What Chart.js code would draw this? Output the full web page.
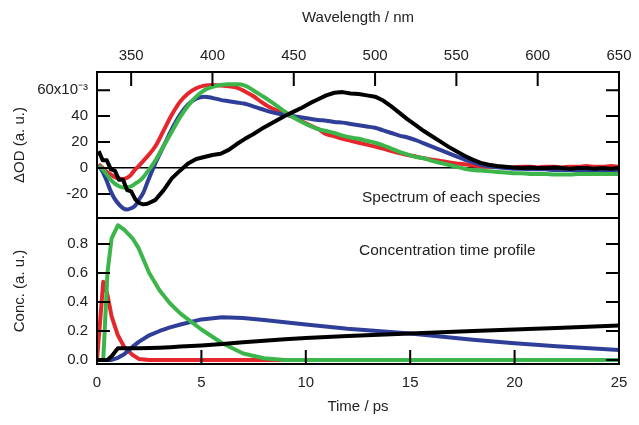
<!DOCTYPE html>
<html>
<head>
<meta charset="utf-8">
<script src="https://cdn.jsdelivr.net/npm/chart.js@4.4.1/dist/chart.umd.min.js"></script>
<style>
  html, body { margin: 0; padding: 0; background: #fff; }
</style>
</head>
<body>
<canvas id="myChart" width="639" height="425"></canvas>
<script>
// spectrum panel (top axis, nm)
const wavelength = [330, 332.5, 335, 337.5, 340, 342.5, 345, 347.5, 350, 352.5, 355, 357.5, 360,
  365, 370, 375, 380, 385, 390, 395, 400, 405, 410,
  415, 420, 425, 430, 435, 440, 445, 450, 455, 460,
  465, 470, 475, 480, 485, 490, 495, 500, 505, 510,
  515, 520, 525, 530, 535, 540, 545, 550, 555, 560,
  565, 570, 575, 580, 585, 590, 595, 600, 605, 610,
  615, 620, 625, 630, 635, 640, 645, 650];
const odRed = [3, 0, -3, -5, -7, -8, -8.5, -7.5, -5, -1, 2, 5.5, 9,
  17, 29, 41, 51, 57.5, 61.5, 63.5, 64, 63.5, 63,
  62, 59, 55.5, 51, 47, 44, 41.5, 39, 36, 33,
  30, 26, 24.5, 22.5, 21, 19.5, 18, 16.5, 15, 13,
  11.5, 10, 9, 7.5, 6.5, 5.5, 4.5, 3.5, 3, 2,
  1.5, 1, 1, 0.5, 0.5, 1, 1, 0.5, 1, 1,
  0.5, 1, 1, 1.5, 1, 1, 1.5, 1];
const odGreen = [2, -1, -5, -9, -12, -14, -15, -15, -14, -12, -10, -7, -3,
  6, 17, 28, 39, 48, 55, 60, 62.5, 64, 64.5,
  64.5, 63.5, 60, 56, 52, 47.5, 43, 39, 35.5, 32.5,
  30, 28.5, 27, 25, 23.5, 22.5, 21, 19.5, 17.5, 15,
  12.5, 10.5, 8.5, 7.5, 5.5, 4, 2.5, 1, -0.5, -1.5,
  -2, -2.5, -3, -3.5, -4, -4, -4.5, -4.5, -4.5, -5,
  -5, -5, -4.5, -4.5, -4.5, -4.5, -4.5, -4.5];
const odBlue = [2, -3, -10, -18, -24, -28, -31, -32, -31, -29, -24, -19, -11,
  4, 17, 30, 41, 49, 53.5, 55, 54, 52.5, 51.5,
  50.5, 49.5, 47.5, 45.5, 43.5, 42, 41, 40, 39, 38,
  37, 36.5, 35.5, 35, 34, 33, 32, 31, 29, 27,
  25, 23.5, 21.5, 19, 16.5, 14, 11.5, 9, 6.5, 4.5,
  2.5, 1.5, 0.5, 0, -0.5, -0.5, -1, -1, -1, -1.5,
  -1.5, -1.5, -2, -2, -2, -2, -2, -2];
const odBlack = [13, 6, 6, -1, -2, -9, -9, -17, -18, -24, -27, -28, -27.5,
  -24.5, -17, -8, -2, 3.5, 7, 8.5, 10, 11, 14,
  18.5, 22.5, 26, 30, 33.5, 37, 40.5, 43.5, 46.5, 50,
  53, 56, 58, 58.5, 57.5, 57, 56, 55, 52, 47.5,
  42.5, 37.5, 33, 28.5, 24.5, 20.5, 16.5, 13, 9.5, 6.5,
  4, 2.5, 1.5, 1, 0.5, 0, 0.5, 0, 0, 0.5,
  0, -0.5, 0, 0, -0.5, 0, -0.5, 0];

// concentration panel (bottom axis, ps)
const time = [0, 0.3, 0.5, 0.7, 1.0, 1.3, 1.7, 2.0, 2.5, 3.0, 3.5, 4.0, 5.0, 6.0, 7.0, 8.0, 9.0, 10, 12, 15, 18, 20, 22, 25];
const concRed = [0, 0.54, 0.45, 0.3, 0.17, 0.09, 0.035, 0.007, 0, 0, 0, 0, 0, 0, 0, 0, 0, 0, 0, 0, 0, 0, 0, 0];
const concGreen = [0, 0, 0.6, 0.84, 0.93, 0.9, 0.84, 0.77, 0.6, 0.48, 0.39, 0.32, 0.21, 0.115, 0.045, 0.012, 0, 0, 0, 0, 0, 0, 0, 0];
const concBlue = [0, 0, 0, 0, 0.015, 0.04, 0.09, 0.125, 0.17, 0.2, 0.225, 0.245, 0.28, 0.295, 0.29, 0.275, 0.26, 0.245, 0.215, 0.183, 0.14, 0.115, 0.095, 0.068];
const concBlack = [0, 0, 0, 0.025, 0.08, 0.08, 0.08, 0.08, 0.082, 0.085, 0.088, 0.092, 0.1, 0.11, 0.122, 0.133, 0.143, 0.152, 0.165, 0.182, 0.2, 0.21, 0.22, 0.237];

const wlTicks = [350, 400, 450, 500, 550, 600, 650];
const timeTicks = [0, 5, 10, 15, 20, 25];
const odTicks = [-20, 0, 20, 40, 60];
const concTicks = [0, 0.2, 0.4, 0.6, 0.8];

const RED = '#e5262c', GREEN = '#3cb54b', BLUE = '#2f3f99', BLACK = '#000';
const FONT = '"Liberation Sans", Arial, sans-serif';
const TXT = '#222';

const pts = (xs, ys) => xs.map((x, i) => ({ x: x, y: ys[i] }));
const fixTicks = list => scale => { scale.ticks = list.map(v => ({ value: v })); };

function line(data, color, xId, yId, order, smooth) {
  return {
    data: data, xAxisID: xId, yAxisID: yId, order: order,
    borderColor: color, borderWidth: 4, pointRadius: 0,
    borderJoinStyle: 'round',
    cubicInterpolationMode: smooth ? 'monotone' : 'default', tension: 0,
    fill: false
  };
}

// frames, inward tick marks and panel captions
const frames = {
  id: 'frames',
  afterDatasetsDraw(chart) {
    const { ctx, chartArea: a, scales } = chart;
    const yOD = scales.yOD, yC = scales.yConc, xW = scales.xWave, xT = scales.xTime;
    ctx.save();
    ctx.strokeStyle = '#000';
    ctx.lineWidth = 2;
    ctx.strokeRect(a.left, yOD.top, a.right - a.left, yOD.bottom - yOD.top);
    ctx.strokeRect(a.left, yC.top, a.right - a.left, yC.bottom - yC.top);
    ctx.beginPath();
    wlTicks.forEach(v => {
      const x = xW.getPixelForValue(v);
      ctx.moveTo(x, yOD.top); ctx.lineTo(x, yOD.top + 14);
    });
    timeTicks.forEach(v => {
      const x = xT.getPixelForValue(v);
      ctx.moveTo(x, yC.bottom); ctx.lineTo(x, yC.bottom - 14);
    });
    odTicks.forEach(v => {
      const y = yOD.getPixelForValue(v);
      ctx.moveTo(a.left, y); ctx.lineTo(a.left + 13, y);
      ctx.moveTo(a.right, y); ctx.lineTo(a.right - 13, y);
    });
    concTicks.forEach(v => {
      const y = yC.getPixelForValue(v);
      ctx.moveTo(a.left, y); ctx.lineTo(a.left + 13, y);
      ctx.moveTo(a.right, y); ctx.lineTo(a.right - 13, y);
    });
    ctx.stroke();

    ctx.fillStyle = TXT;
    ctx.font = '15.5px ' + FONT;
    ctx.textBaseline = 'middle';
    ctx.textAlign = 'left';
    ctx.fillText('Spectrum of each species', 362, 198);
    ctx.fillText('Concentration time profile', 359, 251);
    ctx.restore();
  }
};

const ctx = document.getElementById('myChart').getContext('2d');

new Chart(ctx, {
  type: 'line',
  data: {
    datasets: [
      line(pts(wavelength, odRed), RED, 'xWave', 'yOD', 4, true),
      line(pts(wavelength, odBlue), BLUE, 'xWave', 'yOD', 3, true),
      line(pts(wavelength, odGreen), GREEN, 'xWave', 'yOD', 2, true),
      line(pts(wavelength, odBlack), BLACK, 'xWave', 'yOD', 1, false),
      line(pts(time, concRed), RED, 'xTime', 'yConc', 4, false),
      line(pts(time, concBlue), BLUE, 'xTime', 'yConc', 3, false),
      line(pts(time, concGreen), GREEN, 'xTime', 'yConc', 2, false),
      line(pts(time, concBlack), BLACK, 'xTime', 'yConc', 1, false)
    ]
  },
  options: {
    responsive: false,
    animation: false,
    layout: { padding: { left: 0, right: 14, top: 0, bottom: 0 } },
    plugins: { legend: { display: false }, tooltip: { enabled: false } },
    scales: {
      xWave: {
        type: 'linear', position: 'top', min: 329, max: 650,
        afterBuildTicks: fixTicks(wlTicks),
        afterFit: s => { s.height = 72; },
        grid: { display: false, drawTicks: false },
        border: { display: false },
        ticks: { padding: 7.5, color: TXT, font: { size: 15, family: FONT }, maxRotation: 0 },
        title: { display: true, text: 'Wavelength / nm', color: TXT, padding: { top: 9, bottom: 0 }, font: { size: 15, family: FONT } }
      },
      xTime: {
        type: 'linear', position: 'bottom', min: 0, max: 25,
        afterBuildTicks: fixTicks(timeTicks),
        afterFit: s => { s.height = 61; },
        grid: { display: false, drawTicks: false },
        border: { display: false },
        ticks: { padding: 10, color: TXT, font: { size: 15, family: FONT }, maxRotation: 0 },
        title: { display: true, text: 'Time / ps', color: TXT, padding: { top: 0, bottom: 9 }, font: { size: 15, family: FONT } }
      },
      yOD: {
        type: 'linear', position: 'left', stack: 'panels', stackWeight: 1, weight: 1,
        min: -38.5, max: 74,
        afterBuildTicks: fixTicks(odTicks),
        afterFit: s => { s.width = 97; },
        grid: {
          drawTicks: false,
          color: c => (c.tick && c.tick.value === 0 ? '#000' : 'rgba(0,0,0,0)'),
          lineWidth: 1.5
        },
        border: { display: false },
        ticks: {
          padding: 9, color: TXT, font: { size: 15, family: FONT },
          callback: v => (v === 60 ? '60x10\u207B\u00B3' : String(v))
        },
        title: { display: true, text: '\u0394OD (a. u.)', color: TXT, padding: { top: 11, bottom: 0 }, font: { size: 15, family: FONT } }
      },
      yConc: {
        type: 'linear', position: 'left', stack: 'panels', stackWeight: 1, weight: 0,
        min: -0.028, max: 0.98,
        afterBuildTicks: fixTicks(concTicks),
        afterFit: s => { s.width = 97; },
        grid: { display: false, drawTicks: false },
        border: { display: false },
        ticks: {
          padding: 9, color: TXT, font: { size: 15, family: FONT },
          callback: v => Number(v).toFixed(1)
        },
        title: { display: true, text: 'Conc. (a. u.)', color: TXT, padding: { top: 11, bottom: 0 }, font: { size: 15, family: FONT } }
      }
    }
  },
  plugins: [frames]
});
</script>
</body>
</html>
